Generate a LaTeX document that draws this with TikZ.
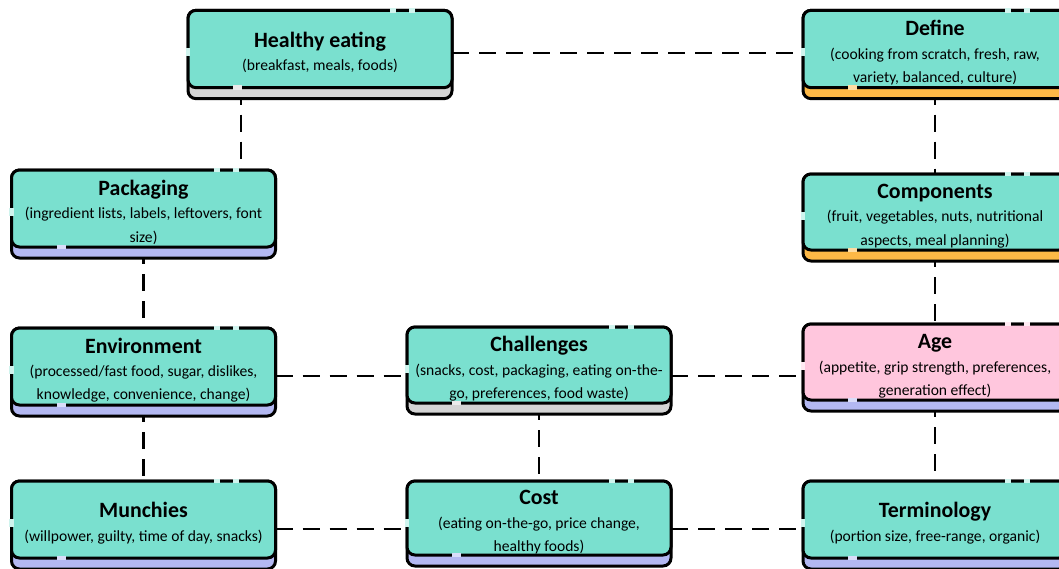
\documentclass[tikz,border=0pt]{standalone}
\usepackage{fontspec}
\setmainfont{Carlito}
\usetikzlibrary{backgrounds,calc}
\definecolor{cardteal}{RGB}{122,224,207}
\definecolor{cardpink}{RGB}{255,198,221}
\definecolor{cardlav}{RGB}{179,184,242}
\definecolor{cardorange}{RGB}{253,184,70}
\definecolor{cardgray}{RGB}{212,212,212}
\tikzset{
  card/.style={draw, line width=2.25pt, rounded corners=6pt, fill=cardteal,
    minimum width=198pt, minimum height=58pt, outer sep=0pt, inner xsep=2pt,
    inner ysep=0pt, align=center, font=\fontsize{11.7}{17.6}\selectfont},
  layer/.style={draw, line width=2.25pt, rounded corners=6pt},
  link/.style={line width=2pt, dash pattern=on 12.75pt off 7.5pt},
  gap/.style={line width=3.4pt, line cap=butt},
}
\newcommand{\cardtitle}[1]{{\fontsize{16.4}{17.6}\selectfont\bfseries\rule{0pt}{17pt}#1}}
\begin{document}
\begin{tikzpicture}[x=0.75pt, y=-0.75pt]
\clip (0,0) rectangle (1059,568);
% cards
\node[card] (eat) at (320,49) {\cardtitle{Healthy eating}\\(breakfast, meals, foods)};
\node[card] (def) at (935,49) {\cardtitle{Define}\\(cooking from scratch, fresh, raw,\\variety, balanced, culture)};
\node[card, minimum height=57.75pt] (pack) at (143.5,208.5) {\cardtitle{Packaging}\\(ingredient lists, labels, leftovers, font\\size)};
\node[card, minimum height=57pt] (comp) at (935,212) {\cardtitle{Components}\\(fruit, vegetables, nuts, nutritional\\aspects, meal planning)};
\node[card, minimum height=57.75pt] (env) at (143.5,366.5) {\cardtitle{Environment}\\(processed/fast food, sugar, dislikes,\\knowledge, convenience, change)};
\node[card, minimum height=57pt] (chal) at (539,365) {\cardtitle{Challenges}\\(snacks, cost, packaging, eating on-the-\\go, preferences, food waste)};
\node[card, minimum height=57pt, fill=cardpink] (age) at (935,362) {\cardtitle{Age}\\(appetite, grip strength, preferences,\\generation effect)};
\node[card, minimum height=57.75pt] (munch) at (143.5,519.5) {\cardtitle{Munchies}\\(willpower, guilty, time of day, snacks)};
\node[card, minimum height=55.5pt] (cost) at (539,518) {\cardtitle{Cost}\\(eating on-the-go, price change,\\healthy foods)};
\node[card, minimum height=57.75pt] (term) at (935,519.5) {\cardtitle{Terminology}\\(portion size, free-range, organic)};
% rows and columns of the links
\coordinate (row1) at (0,53);
\coordinate (row3) at (0,376);
\coordinate (row4) at (0,529);
\coordinate (eatx) at (241,0);
\begin{scope}[on background layer]
  \draw[link] (eat.east |- row1) -- (def.west |- row1);
  \draw[link] (eat.south -| eatx) -- (pack.north -| eatx);
  \draw[link] (pack.south) -- (env.north);
  \draw[link] (env.south) -- (munch.north);
  \draw[link] (env.east |- row3) -- (chal.west |- row3);
  \draw[link] (chal.east |- row3) -- (age.west |- row3);
  \draw[link] (chal.south) -- (cost.north);
  \draw[link] (munch.east |- row4) -- (cost.west |- row4);
  \draw[link] (cost.east |- row4) -- (term.west |- row4);
  \draw[link] (def.south) -- (comp.north);
  \draw[link] (comp.south) -- (age.north);
  \draw[link] (age.south) -- (term.north);
  % coloured strip under each card
  \foreach \n/\c in {eat/cardgray, def/cardorange, pack/cardlav, comp/cardorange,
      env/cardlav, chal/cardgray, age/cardlav, munch/cardlav, cost/cardlav, term/cardlav}
    \draw[layer, fill=\c] (\n.north west) rectangle ($(\n.south east)+(0,11)$);
\end{scope}
% breaks in the card outlines
\foreach \n/\f/\c in {eat/cardteal/cardgray, def/cardteal/cardorange, pack/cardteal/cardlav,
    comp/cardteal/cardorange, env/cardteal/cardlav, chal/cardteal/cardgray,
    age/cardpink/cardlav, munch/cardteal/cardlav, cost/cardteal/cardlav, term/cardteal/cardlav}
{
  \draw[gap, \f!35!white] ($(\n.north west)+(202,0)$) -- ++(6,0)
    ($(\n.north west)+(221,0)$) -- ++(6,0)
    ($(\n.north west)+(0,38)$) -- ++(0,8);
  \draw[gap, \c!50!white] ($(\n.south west)+(45,0)$) -- ++(9,0);
}
\end{tikzpicture}
\end{document}
